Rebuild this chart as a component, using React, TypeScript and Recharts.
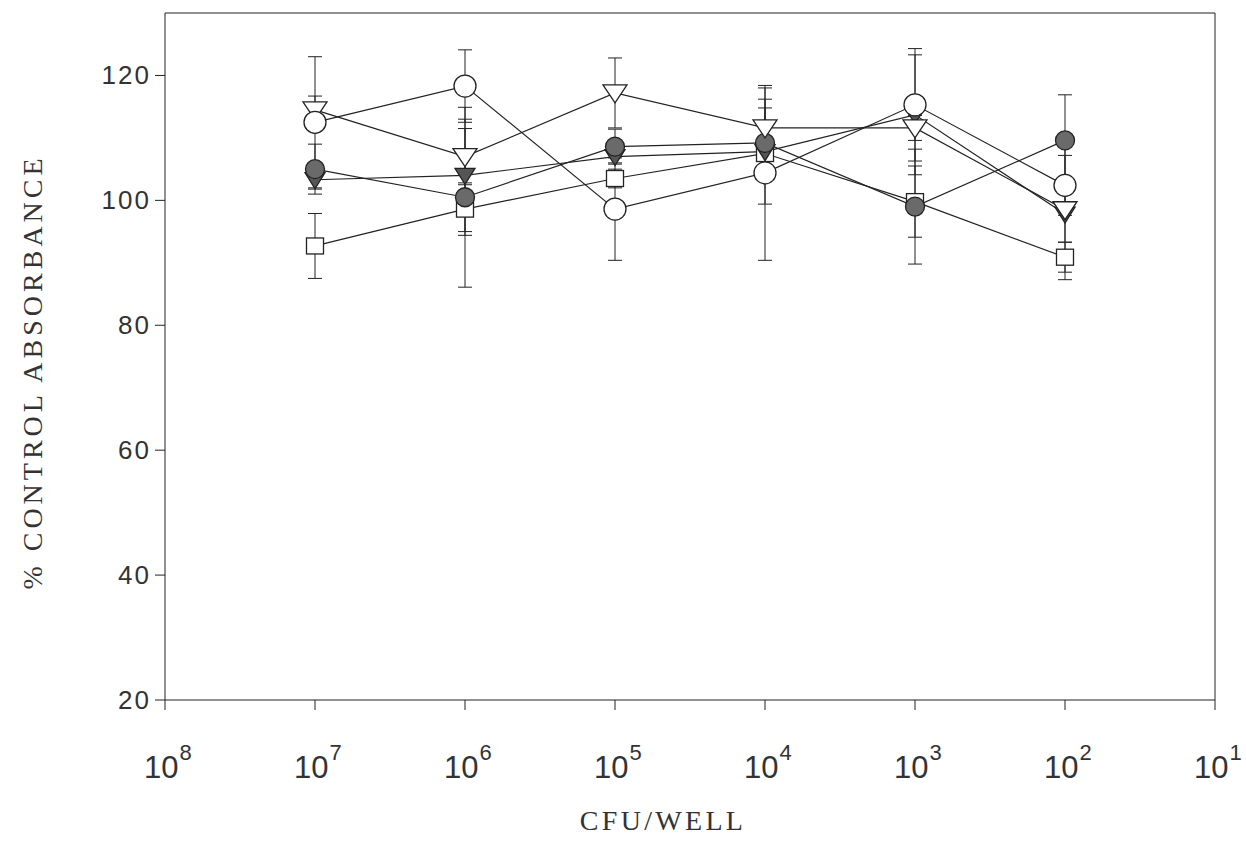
import { LineChart, Line, XAxis, YAxis, ErrorBar, ReferenceLine } from "recharts"

// CFU per well, as powers of ten
const exponents = [7, 6, 5, 4, 3, 2]
const xTicks = [8, 7, 6, 5, 4, 3, 2, 1]
const yTicks = [20, 40, 60, 80, 100, 120]

const openCircle = [112.5, 118.3, 98.6, 104.4, 115.3, 102.4]
const openCircleErr = [10.5, 5.8, 8.2, 14, 9, 4.8]
const openTriangle = [114.5, 107, 117.2, 111.6, 111.6, 98.5]
const openTriangleErr = [2.2, 4.5, 5.6, 6.4, 2, 11.2]
const grayCircle = [105, 100.5, 108.6, 109.2, 99, 109.6]
const grayCircleErr = [4, 14.4, 2.8, 5.6, 9.2, 7.3]
const filledTriangle = [103.3, 104, 107, 107.8, 113.7, 97.8]
const filledTriangleErr = [1.5, 9, 1, 8.4, 9.6, 4.5]
const openSquare = [92.7, 98.6, 103.5, 107.5, 99.8, 90.9]
const openSquareErr = [5.2, 4.2, 1.5, 1, 5.7, 2.4]

const data = exponents.map((exp, i) => ({
  exp,
  circle: openCircle[i],
  circleErr: openCircleErr[i],
  tri: openTriangle[i],
  triErr: openTriangleErr[i],
  gray: grayCircle[i],
  grayErr: grayCircleErr[i],
  ftri: filledTriangle[i],
  ftriErr: filledTriangleErr[i],
  square: openSquare[i],
  squareErr: openSquareErr[i],
}))

const ink = "#222"
const textInk = "#333"

type MarkerKind = "circle" | "tri" | "gray" | "ftri" | "square"

const makeDot = (kind: MarkerKind) => (props: any) => {
  const { cx, cy, index } = props
  const key = `${kind}-${index}`
  if (cx == null || cy == null) return <g key={key} />
  switch (kind) {
    case "circle":
      return <circle key={key} cx={cx} cy={cy} r={11} fill="#fff" stroke={ink} strokeWidth={1.3} />
    case "gray":
      return <circle key={key} cx={cx} cy={cy} r={9.5} fill="#6a6a6a" stroke={ink} strokeWidth={1.3} />
    case "tri":
      return (
        <polygon
          key={key}
          points={`${cx - 12},${cy - 8} ${cx + 12},${cy - 8} ${cx},${cy + 10}`}
          fill="#fff"
          stroke={ink}
          strokeWidth={1.3}
        />
      )
    case "ftri":
      return (
        <polygon
          key={key}
          points={`${cx - 10},${cy - 7} ${cx + 10},${cy - 7} ${cx},${cy + 9}`}
          fill="#555"
          stroke={ink}
          strokeWidth={1.3}
        />
      )
    default:
      return <rect key={key} x={cx - 8.5} y={cy - 8} width={17} height={16} fill="#fff" stroke={ink} strokeWidth={1.3} />
  }
}

function ExpTick({ x, y, payload }: any) {
  return (
    <text x={x - 21} y={y + 66} fontSize={31} fontFamily="Liberation Sans" fill={textInk}>
      10
      <tspan dx={1} dy={-18} fontSize={22}>
        {payload.value}
      </tspan>
    </text>
  )
}

function ValueTick({ x, y, payload }: any) {
  return (
    <text x={x} y={y + 9} textAnchor="end" fontSize={26} letterSpacing={2} fontFamily="Liberation Sans" fill={textInk}>
      {payload.value}
    </text>
  )
}

const series: { key: string; kind: MarkerKind }[] = [
  { key: "square", kind: "square" },
  { key: "ftri", kind: "ftri" },
  { key: "gray", kind: "gray" },
  { key: "tri", kind: "tri" },
  { key: "circle", kind: "circle" },
]

export default function App() {
  return (
    <div style={{ position: "absolute", left: 0, top: 0, width: 1246, height: 848, background: "#fff" }}>
      <LineChart width={1246} height={848} data={data} margin={{ top: 13, right: 31, bottom: 48, left: 0 }}>
        <XAxis
          type="number"
          dataKey="exp"
          domain={[1, 8]}
          reversed
          ticks={xTicks}
          interval={0}
          height={100}
          tickSize={10}
          tickMargin={2}
          stroke={ink}
          tick={<ExpTick />}
          label={{
            content: () => (
              <text x={663} y={830} textAnchor="middle" fontSize={28} letterSpacing={3.3} fontFamily="Liberation Serif" fill={textInk}>
                CFU/WELL
              </text>
            ),
          }}
        />
        <YAxis
          type="number"
          domain={[20, 130]}
          ticks={yTicks}
          interval={0}
          width={165}
          tickSize={10}
          tickMargin={4}
          stroke={ink}
          tick={<ValueTick />}
          label={{
            content: () => (
              <text
                x={42}
                y={372}
                transform="rotate(-90 42 372)"
                textAnchor="middle"
                fontSize={28}
                letterSpacing={4}
                fontFamily="Liberation Serif"
                fill={textInk}
              >
                % CONTROL ABSORBANCE
              </text>
            ),
          }}
        />
        <ReferenceLine y={130} stroke={ink} strokeWidth={1} />
        <ReferenceLine x={1} stroke={ink} strokeWidth={1} />
        {series.map((s) => (
          <Line
            key={s.key}
            dataKey={s.key}
            type="linear"
            stroke={ink}
            strokeWidth={1.2}
            dot={makeDot(s.kind)}
            activeDot={false}
            isAnimationActive={false}
          >
            <ErrorBar dataKey={`${s.key}Err`} direction="y" width={7} stroke={ink} strokeWidth={1} isAnimationActive={false} />
          </Line>
        ))}
      </LineChart>
    </div>
  )
}
